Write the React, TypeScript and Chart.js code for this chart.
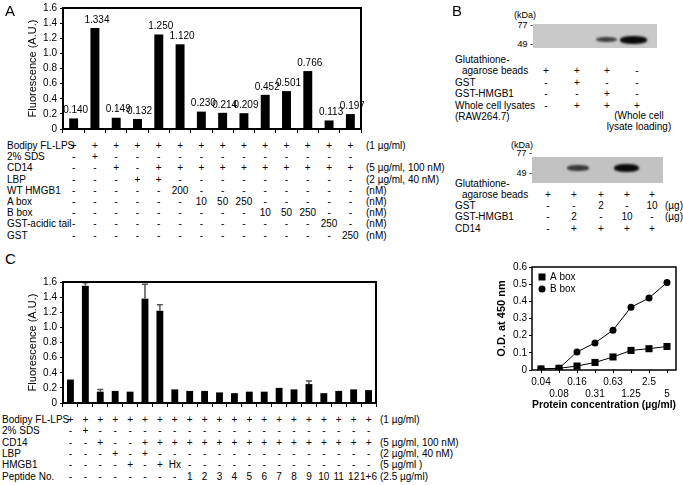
import React, { useEffect, useRef, useState } from "react";
import { Chart, registerables } from "chart.js";

Chart.register(...registerables);

const FONT = '"Liberation Sans", Arial, Helvetica, sans-serif';
Chart.defaults.font.family = FONT;
Chart.defaults.color = "#000";

// ---------------- Panel A data ----------------
const aValues = [0.14, 1.334, 0.149, 0.132, 1.25, 1.12, 0.23, 0.214, 0.209, 0.452, 0.501, 0.766, 0.113, 0.197];
const aRowNames = ["Bodipy FL-LPS", "2% SDS", "CD14", "LBP", "WT HMGB1", "A box", "B box", "GST-acidic tail", "GST"];
const aRowUnits = ["(1 µg/ml)", "", "(5 µg/ml, 100 nM)", "(2 µg/ml, 40 nM)", "(nM)", "(nM)", "(nM)", "(nM)", "(nM)"];
const aRowCells = [
  "+ + + + + + + + + + + + + +",
  "- + - - - - - - - - - - - -",
  "- - + - + + + + + + + + + +",
  "- - - + + - - - - - - - - -",
  "- - - - - 200 - - - - - - - -",
  "- - - - - - 10 50 250 - - - - -",
  "- - - - - - - - - 10 50 250 - -",
  "- - - - - - - - - - - - 250 -",
  "- - - - - - - - - - - - - 250",
].map((s) => s.split(" "));

// ---------------- Panel C data ----------------
const cValues = [0.31, 1.55, 0.15, 0.16, 0.15, 1.38, 1.22, 0.18, 0.16, 0.16, 0.14, 0.13, 0.15, 0.15, 0.2, 0.18, 0.25, 0.13, 0.16, 0.18, 0.17];
const cErrors = [0, 0.04, 0.03, 0, 0, 0.19, 0.08, 0, 0, 0, 0, 0, 0, 0, 0, 0, 0.04, 0, 0, 0, 0];
const cRowNames = ["Bodipy FL-LPS", "2% SDS", "CD14", "LBP", "HMGB1", "Peptide No."];
const cRowUnits = ["(1 µg/ml)", "", "(5 µg/ml, 100 nM)", "(2 µg/ml, 40 nM)", "(5 µg/ml )", "(2.5 µg/ml)"];
const cRowCells = [
  "+ + + + + + + + + + + + + + + + + + + + +",
  "- + - - - - - - - - - - - - - - - - - - -",
  "- - + - - + + + + + + + + + + + + + + + +",
  "- - - + - + - - - - - - - - - - - - - - -",
  "- - - - + - + Hx - - - - - - - - - - - - -",
  "- - - - - - - - 1 2 3 4 5 6 7 8 9 10 11 12 1+6",
].map((s) => s.split(" "));

// ---------------- Panel B data ----------------
const bTopNames = ["Glutathione-", "agarose beads", "GST", "GST-HMGB1", "Whole cell lysates", "(RAW264.7)"];
const bTopCells = [[], ["+", "+", "+", "-"], ["-", "+", "-", "-"], ["-", "-", "+", "-"], ["-", "+", "+", "+"], []];
const bTopBands = [0, 0, 0.72, 1];
const bBotNames = ["Glutathione-", "agarose beads", "GST", "GST-HMGB1", "CD14"];
const bBotCells = [[], ["+", "+", "+", "+", "+"], ["-", "-", "2", "-", "10"], ["-", "2", "-", "10", "-"], ["-", "+", "+", "+", "+"]];
const bBotUnits = ["", "", "(µg)", "(µg)", ""];
const bBotBands = [0, 0.75, 0, 1, 0];
const bMarkers = ["77 -", "49 -"];

// ---------------- Panel D data ----------------
const dLabels = ["0.04", "0.08", "0.16", "0.31", "0.63", "1.25", "2.5", "5"];
const dABox = [0.006, 0.01, 0.023, 0.044, 0.076, 0.114, 0.124, 0.137];
const dBBox = [0.006, 0.01, 0.105, 0.158, 0.232, 0.366, 0.419, 0.51];

// ---------------- plugins ----------------
const boxPlugin = {
  id: "box",
  afterDraw(chart: any, _a: any, opts: any) {
    const { ctx, chartArea } = chart;
    const { left, top, right, bottom } = chartArea;
    ctx.save();
    ctx.strokeStyle = "#000";
    ctx.lineWidth = opts.width ?? 2;
    ctx.strokeRect(left, top, right - left, bottom - top);
    ctx.restore();
  },
};

const valuePlugin = {
  id: "values",
  afterDatasetsDraw(chart: any, _a: any, opts: any) {
    if (!opts.show) return;
    const { ctx } = chart;
    const meta = chart.getDatasetMeta(0);
    const data = chart.data.datasets[0].data;
    ctx.save();
    ctx.font = `10px ${FONT}`;
    ctx.fillStyle = "#000";
    ctx.textAlign = "center";
    ctx.textBaseline = "bottom";
    meta.data.forEach((el: any, i: number) => {
      ctx.fillText(Number(data[i]).toFixed(3), el.x + 2, el.y - 3);
    });
    ctx.restore();
  },
};

const errPlugin = {
  id: "errbars",
  afterDatasetsDraw(chart: any, _a: any, opts: any) {
    const errors: number[] | undefined = opts.errors;
    if (!errors) return;
    const { ctx } = chart;
    const meta = chart.getDatasetMeta(0);
    const data = chart.data.datasets[0].data;
    const y = chart.scales.y;
    ctx.save();
    ctx.strokeStyle = "#555";
    ctx.lineWidth = 1.5;
    meta.data.forEach((el: any, i: number) => {
      const e = errors[i];
      if (!e) return;
      const y0 = y.getPixelForValue(Number(data[i]));
      const y1 = y.getPixelForValue(Number(data[i]) + e);
      ctx.beginPath();
      ctx.moveTo(el.x, y0);
      ctx.lineTo(el.x, y1);
      ctx.moveTo(el.x - 3, y1);
      ctx.lineTo(el.x + 3, y1);
      ctx.stroke();
    });
    ctx.restore();
  },
};

const legendPlugin = {
  id: "innerLegend",
  afterDraw(chart: any) {
    const { ctx, chartArea } = chart;
    const x = chartArea.left + 10;
    let y = chartArea.top + 10;
    ctx.save();
    ctx.font = `10px ${FONT}`;
    ctx.fillStyle = "#000";
    ctx.textBaseline = "middle";
    chart.data.datasets.forEach((ds: any) => {
      if (ds.pointStyle === "rect") {
        ctx.fillRect(x - 3.5, y - 3.5, 7, 7);
      } else {
        ctx.beginPath();
        ctx.arc(x, y, 3.5, 0, Math.PI * 2);
        ctx.fill();
      }
      ctx.fillText(ds.label, x + 8, y);
      y += 12;
    });
    ctx.restore();
  },
};

const tickFmt = (v: any) => {
  const n = Number(v);
  return Math.abs(n) < 1e-9 ? "0" : n.toFixed(1);
};

function makeBarChart(canvas: HTMLCanvasElement, values: number[], errors: number[] | undefined, showValues: boolean, barPct: number) {
  return new Chart(canvas, {
    type: "bar",
    data: {
      labels: values.map((_, i) => String(i + 1)),
      datasets: [
        {
          data: values,
          backgroundColor: "#000",
          borderWidth: 0,
          barPercentage: barPct,
          categoryPercentage: 1,
        },
      ],
    },
    options: {
      animation: false,
      responsive: false,
      devicePixelRatio: 1,
      layout: { padding: { top: 6, right: 3, bottom: 0, left: 0 } },
      plugins: {
        legend: { display: false },
        tooltip: { enabled: false },
        box: { width: 2 },
        values: { show: showValues },
        errbars: { errors },
      } as any,
      scales: {
        x: {
          type: "category",
          offset: true,
          ticks: { display: false },
          grid: { display: true, drawOnChartArea: false, drawTicks: true, tickLength: 4, color: "#000", offset: true },
          border: { display: false },
          afterFit: (s: any) => {
            s.height = 5;
          },
        },
        y: {
          min: 0,
          max: 1.6,
          ticks: { stepSize: 0.2, color: "#000", font: { family: FONT, size: 10 }, padding: 3, callback: tickFmt },
          grid: { drawOnChartArea: false, drawTicks: true, tickLength: 3, color: "#000" },
          border: { display: false },
          title: {
            display: true,
            text: "Fluorescence (A.U.)",
            color: "#000",
            font: { family: FONT, size: 11 },
            padding: { top: 26.4, bottom: 0 },
          },
          afterFit: (s: any) => {
            s.width = 63;
          },
        },
      } as any,
    },
    plugins: [boxPlugin, valuePlugin, errPlugin],
  } as any);
}

const abs: React.CSSProperties = { position: "absolute", whiteSpace: "nowrap", lineHeight: 1 };

function TableRows(props: {
  names: string[];
  cells: string[][];
  units: string[];
  cols: number[];
  y0: number;
  dy: number;
  nameX: number;
  unitX: number;
  size: number;
}) {
  const { names, cells, units, cols, y0, dy, nameX, unitX, size } = props;
  return (
    <>
      {names.map((name, ri) => {
        const y = y0 + ri * dy;
        return (
          <React.Fragment key={ri}>
            <div style={{ ...abs, fontSize: size, left: nameX, top: y, transform: "translateY(-50%)" }}>{name}</div>
            {cols.length > 0 &&
              cells[ri].map((c, ci) => (
                <div key={ci} style={{ ...abs, fontSize: size, left: cols[ci], top: y, transform: "translate(-50%,-50%)" }}>
                  {c}
                </div>
              ))}
            {units[ri] ? (
              <div style={{ ...abs, fontSize: size, left: unitX, top: y, transform: "translateY(-50%)" }}>{units[ri]}</div>
            ) : null}
          </React.Fragment>
        );
      })}
    </>
  );
}

function BarPanel(props: {
  left: number;
  top: number;
  width: number;
  height: number;
  values: number[];
  errors?: number[];
  showValues: boolean;
  barPct: number;
  names: string[];
  cells: string[][];
  units: string[];
  y0: number;
  dy: number;
  nameX: number;
  unitX: number;
}) {
  const ref = useRef<HTMLCanvasElement>(null);
  const [cols, setCols] = useState<number[]>([]);
  const { left, top, width, height, values, errors, showValues, barPct } = props;
  useEffect(() => {
    const chart = makeBarChart(ref.current as HTMLCanvasElement, values, errors, showValues, barPct);
    const xs = values.map((_, i) => left + chart.scales.x.getPixelForValue(i));
    setCols(xs);
    return () => chart.destroy();
  }, []);
  return (
    <>
      <canvas ref={ref} width={width} height={height} style={{ position: "absolute", left, top, width, height }} />
      <TableRows
        names={props.names}
        cells={props.cells}
        units={props.units}
        cols={cols}
        y0={props.y0}
        dy={props.dy}
        nameX={props.nameX}
        unitX={props.unitX}
        size={10}
      />
    </>
  );
}

function PanelD() {
  const ref = useRef<HTMLCanvasElement>(null);
  const left = 487;
  const top = 259;
  const width = 194;
  const height = 153;
  useEffect(() => {
    const chart = new Chart(ref.current as HTMLCanvasElement, {
      type: "line",
      data: {
        labels: dLabels.map((l, i) => (i % 2 === 0 ? [l, ""] : ["", l])),
        datasets: [
          {
            label: "A box",
            data: dABox,
            borderColor: "#000",
            backgroundColor: "#000",
            pointBackgroundColor: "#000",
            pointBorderColor: "#000",
            borderWidth: 1,
            pointStyle: "rect",
            pointRadius: 5,
            pointBorderWidth: 0,
            tension: 0,
          },
          {
            label: "B box",
            data: dBBox,
            borderColor: "#000",
            backgroundColor: "#000",
            pointBackgroundColor: "#000",
            pointBorderColor: "#000",
            borderWidth: 1,
            pointStyle: "circle",
            pointRadius: 3.5,
            pointBorderWidth: 0,
            tension: 0,
          },
        ],
      },
      options: {
        animation: false,
        responsive: false,
        devicePixelRatio: 1,
        layout: { padding: { top: 6, right: 2, bottom: 0, left: 0 } },
        plugins: {
          legend: { display: false },
          tooltip: { enabled: false },
          box: { width: 1.5 },
        } as any,
        scales: {
          x: {
            type: "category",
            offset: true,
            ticks: { autoSkip: false, maxRotation: 0, color: "#000", font: { family: FONT, size: 10 }, padding: 3 },
            grid: { drawOnChartArea: false, drawTicks: true, tickLength: 3, color: "#000" },
            border: { display: false },
            title: {
              display: true,
              text: "Protein concentration (µg/ml)",
              color: "#000",
              font: { family: FONT, size: 11, weight: "bold" },
              padding: 0,
            },
            afterFit: (s: any) => {
              s.height = 42;
            },
          },
          y: {
            min: 0,
            max: 0.6,
            ticks: { stepSize: 0.1, color: "#000", font: { family: FONT, size: 10 }, padding: 2, callback: tickFmt },
            grid: { drawOnChartArea: false, drawTicks: true, tickLength: 3, color: "#000" },
            border: { display: false },
            title: {
              display: true,
              text: "O.D. at 450 nm",
              color: "#000",
              font: { family: FONT, size: 11, weight: "bold" },
              padding: { top: 8.4, bottom: 0 },
            },
            afterFit: (s: any) => {
              s.width = 45;
            },
          },
        } as any,
      },
      plugins: [boxPlugin, legendPlugin],
    } as any);
    return () => chart.destroy();
  }, []);
  return <canvas ref={ref} width={width} height={height} style={{ position: "absolute", left, top, width, height }} />;
}

function Blot(props: { left: number; top: number; width: number; height: number; color: string; bands: number[]; bandX: number[]; bandY: number; bandW: number[]; bandH: number[] }) {
  const { left, top, width, height, color, bands, bandX, bandY, bandW, bandH } = props;
  return (
    <div style={{ position: "absolute", left, top, width, height, background: color, overflow: "hidden" }}>
      {bands.map((v, i) =>
        v > 0 ? (
          <div
            key={i}
            style={{
              position: "absolute",
              left: bandX[i] - left - bandW[i] / 2,
              top: bandY - top - bandH[i] / 2,
              width: bandW[i],
              height: bandH[i],
              background: `rgba(10,10,10,${v})`,
              borderRadius: "45%",
              filter: "blur(1px)",
            }}
          />
        ) : null
      )}
    </div>
  );
}

function PanelB() {
  const topCols = [546, 577, 607, 637];
  const botCols = [548, 574, 601, 627, 652];
  const txt = (s: string, x: number, y: number, size = 10, center = false, right = false, key?: any) => (
    <div
      key={key}
      style={{
        ...abs,
        fontSize: size,
        left: x,
        top: y,
        transform: center ? "translate(-50%,-50%)" : right ? "translate(-100%,-50%)" : "translateY(-50%)",
      }}
    >
      {s}
    </div>
  );
  const topY = (i: number) => 59.5 + i * 11.5;
  const botY = (i: number) => 183.5 + i * 11.25;
  return (
    <>
      {txt("(kDa)", 514, 15, 9)}
      {txt(bMarkers[0], 533, 25, 9, false, true)}
      {txt(bMarkers[1], 533, 44, 9, false, true)}
      <Blot
        left={533}
        top={24}
        width={124}
        height={24}
        color="#c9c9c9"
        bands={bTopBands}
        bandX={[546, 577, 606.5, 633]}
        bandY={39.5}
        bandW={[20, 20, 21, 27]}
        bandH={[5, 5, 5, 8]}
      />
      {bTopNames.map((n, i) => txt(n, i === 1 ? 462 : 455, topY(i), 10, false, false, "tn" + i))}
      {bTopCells.map((row, i) => row.map((c, j) => txt(c, topCols[j], topY(i), 10, true, false, `tc${i}-${j}`)))}
      {txt("(Whole cell", 639, 116, 10, true)}
      {txt("lysate loading)", 639, 127, 10, true)}

      {txt("(kDa)", 511, 145, 9)}
      {txt(bMarkers[0], 532, 153, 9, false, true)}
      {txt(bMarkers[1], 532, 173, 9, false, true)}
      <Blot
        left={532}
        top={157}
        width={131}
        height={26}
        color="#c2c2c2"
        bands={bBotBands}
        bandX={[548, 577.5, 601, 626, 652]}
        bandY={167.8}
        bandW={[20, 22, 20, 25, 20]}
        bandH={[5, 5.5, 5, 8, 5]}
      />
      {bBotNames.map((n, i) => txt(n, i === 1 ? 462 : 455, botY(i), 10, false, false, "bn" + i))}
      {bBotCells.map((row, i) => row.map((c, j) => txt(c, botCols[j], botY(i), 10, true, false, `bc${i}-${j}`)))}
      {bBotUnits.map((u, i) => (u ? txt(u, 665, botY(i), 10, false, false, "bu" + i) : null))}
    </>
  );
}

export default function App() {
  return (
    <div
      style={{
        position: "absolute",
        left: 0,
        top: 0,
        width: 683,
        height: 485,
        background: "#fff",
        fontFamily: FONT,
        color: "#000",
        overflow: "hidden",
      }}
    >
      <BarPanel
        left={0}
        top={-1}
        width={364}
        height={139}
        values={aValues}
        showValues={true}
        barPct={0.42}
        names={aRowNames}
        cells={aRowCells}
        units={aRowUnits}
        y0={146}
        dy={11.2}
        nameX={7}
        unitX={366}
      />
      <BarPanel
        left={0}
        top={273}
        width={379}
        height={139}
        values={cValues}
        errors={cErrors}
        showValues={false}
        barPct={0.46}
        names={cRowNames}
        cells={cRowCells}
        units={cRowUnits}
        y0={420}
        dy={11.35}
        nameX={2}
        unitX={380}
      />
      <PanelB />
      <PanelD />
      <div style={{ ...abs, fontSize: 15, left: 5, top: 10, transform: "translateY(-50%)" }}>A</div>
      <div style={{ ...abs, fontSize: 15, left: 452, top: 10, transform: "translateY(-50%)" }}>B</div>
      <div style={{ ...abs, fontSize: 15, left: 5, top: 258, transform: "translateY(-50%)" }}>C</div>
    </div>
  );
}
